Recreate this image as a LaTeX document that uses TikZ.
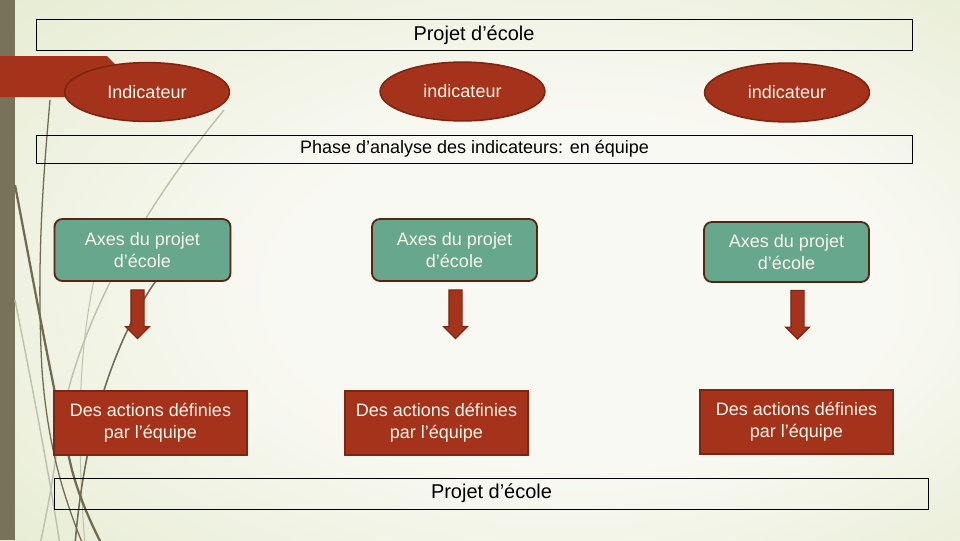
\documentclass[tikz,border=0pt]{standalone}
\usepackage{fontspec}
\setmainfont{Liberation Sans}
\usepackage{xcolor}
\usetikzlibrary{shapes.geometric,shapes.arrows}

\definecolor{fondCentre}{HTML}{F9F9F3}
\definecolor{fondBord}{HTML}{DCE5C0}
\definecolor{barreGauche}{HTML}{79725A}
\definecolor{rougeFond}{HTML}{A5321A}
\definecolor{rougeBord}{HTML}{7E2410}
\definecolor{vertFond}{HTML}{66A78E}
\definecolor{vertBord}{HTML}{5A2410}
\definecolor{texteClair}{HTML}{FAF5EA}
\definecolor{oliveFonce}{HTML}{6F6A50}
\definecolor{grisClair}{HTML}{BDC0AA}

\pgfdeclareradialshading{fond_glow}{\pgfpoint{8bp}{-3bp}}{color(0bp)=(fondCentre); color(16bp)=(fondCentre); color(50bp)=(fondBord)}

\begin{document}
\begin{tikzpicture}[
	x=0.025cm, y=-0.025cm,
	every node/.style={font=\fontsize{12.8}{15.6}\selectfont},
	cadre_titre/.style={
		draw=black, line width=0.6pt,
		minimum width=21.875cm, minimum height=0.775cm, inner sep=0pt
	},
	bulle_ind/.style={
		ellipse, draw=rougeBord, line width=1.1pt, fill=rougeFond, text=texteClair,
		minimum width=4.12cm, minimum height=1.47cm, inner sep=0pt
	},
	boite_axe/.style={
		rectangle, rounded corners=0.2cm, draw=vertBord, line width=1.3pt,
		fill=vertFond, text=texteClair, align=center,
		minimum width=4.125cm, minimum height=1.55cm, inner sep=0pt
	},
	boite_action/.style={
		rectangle, draw=rougeBord, line width=1pt, fill=rougeFond,
		text=texteClair, align=center,
		minimum width=4.825cm, minimum height=1.6cm, inner sep=0pt
	},
	fleche_bas/.style={
		single arrow, shape border rotate=270, draw=rougeBord, line width=0.8pt,
		fill=rougeFond, minimum height=1.22cm, minimum width=0.575cm,
		single arrow head extend=0.1375cm, inner sep=0.15cm
	},
	deco_fonce/.style={draw=oliveFonce, line width=1.1pt},
	deco_clair/.style={draw=grisClair, line width=1pt}
	]
	% --- 1. FOND ---
	\useasboundingbox (0,0) rectangle (960,540);
	\shade[shading=fond_glow] (0,0) rectangle (960,540);
	\fill[barreGauche] (0,0) rectangle (15,540);
	
	% courbes decoratives a gauche
	\draw[deco_clair] (224,110) .. controls (150,200) and (75,320) .. (58,440) .. controls (52,490) and (45,520) .. (40,545);
	\draw[deco_clair] (15,300) .. controls (35,400) and (50,480) .. (60,545);
	\draw[deco_clair, line width=0.7pt] (100,255) .. controls (80,330) and (75,420) .. (85,545);
	\draw[deco_fonce, line width=0.9pt] (50,100) .. controls (44,170) and (36,260) .. (42,370) .. controls (48,450) and (65,500) .. (83,545);
	\draw[deco_fonce, line width=1.6pt] (15,185) .. controls (35,290) and (55,400) .. (72,470) .. controls (80,500) and (92,525) .. (102,545);
	\draw[deco_fonce] (158,278) .. controls (120,330) and (85,420) .. (75,545);
	
	% onglet rouge
	\fill[rougeFond] (0,56) -- (107,56) -- (115,64) -- (115,97) -- (0,97) -- cycle;
	
	% --- 2. CADRES TITRES ---
	\node[cadre_titre] (T_Haut) at (474.5,34.5) {};
	\node[font=\fontsize{14.2}{17}\selectfont] (T_Haut_txt) at (474,35) {Projet d’école};
	
	\node[cadre_titre, minimum height=0.7cm] (T_Phase) at (474.5,149) {Phase d’analyse des indicateurs: en équipe};
	
	\node[cadre_titre, minimum width=21.825cm, font=\fontsize{14.2}{17}\selectfont] (T_Bas) at (491.5,493.5) {Projet d’école};
	
	% --- 3. INDICATEURS ---
	\node[bulle_ind] (Ind_1) at (147,92) {Indicateur};
	\node[bulle_ind] (Ind_2) at (462.5,91.5) {indicateur};
	\node[bulle_ind] (Ind_3) at (787,92.5) {indicateur};
	
	% --- 4. AXES ---
	\node[boite_axe, minimum width=4.4cm] (Axe_1) at (142.5,250) {Axes du projet\\d’école};
	\node[boite_axe] (Axe_2) at (454.5,250) {Axes du projet\\d’école};
	\node[boite_axe, minimum height=1.5cm] (Axe_3) at (786.5,252) {Axes du projet\\d’école};
	
	% --- 5. FLECHES ---
	\node[fleche_bas] (Fl_1) at (137.5,311) {};
	\node[fleche_bas] (Fl_2) at (455.5,311) {};
	\node[fleche_bas] (Fl_3) at (797.5,311.5) {};
	
	% --- 6. ACTIONS ---
	\node[boite_action] (Act_1) at (150.5,423) {Des actions définies\\par l’équipe};
	\node[boite_action, minimum width=4.575cm] (Act_2) at (436.5,423) {Des actions définies\\par l’équipe};
	\node[boite_action] (Act_3) at (796.5,422) {Des actions définies\\par l’équipe};
	
\end{tikzpicture}
\end{document}
